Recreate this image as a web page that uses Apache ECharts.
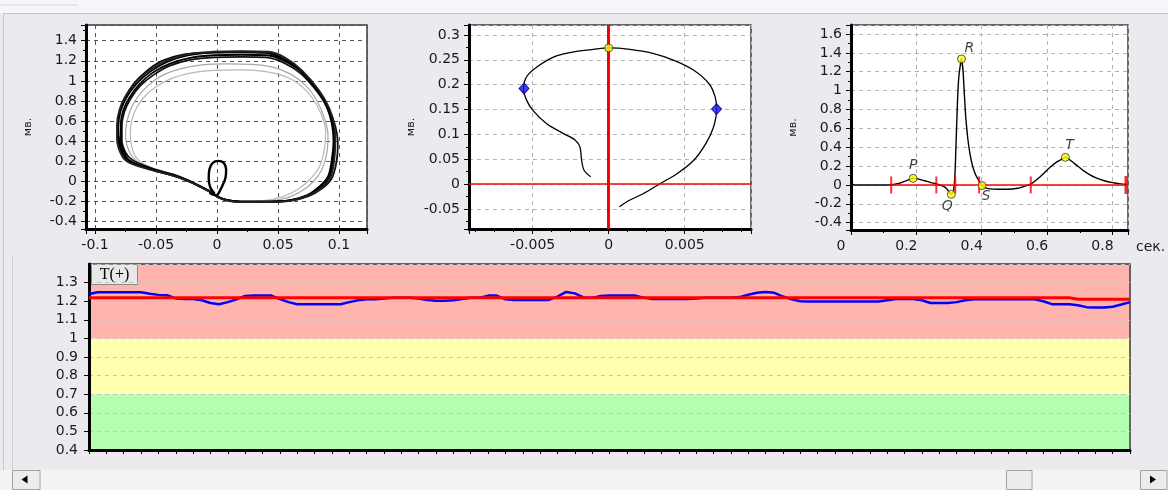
<!DOCTYPE html>
<html><head><meta charset="utf-8">
<script src="https://cdn.jsdelivr.net/npm/echarts@6/dist/echarts.min.js"></script>
<style>html,body{margin:0;padding:0;background:#ECEAEF;}#c{width:1168px;height:490px;}</style>
</head><body><div id="c"></div>
<script>
// ---------- DATA ----------
// Left chart: vector loops (x, y in mV)
const loopBlack1 = [[-0.004,-0.11],[-0.012,-0.06],[-0.022,0.0],[-0.035,0.06],[-0.050,0.11],[-0.063,0.16],[-0.072,0.21],[-0.077,0.28],[-0.080,0.40],[-0.081,0.54],[-0.079,0.70],[-0.074,0.84],[-0.066,0.97],[-0.055,1.09],[-0.041,1.19],[-0.024,1.255],[-0.003,1.283],[0.019,1.29],[0.041,1.285],[0.054,1.225],[0.068,1.11],[0.082,0.91],[0.090,0.74],[0.094,0.58],[0.0955,0.41],[0.094,0.21],[0.091,0.05],[0.084,-0.05],[0.074,-0.135],[0.060,-0.185],[0.041,-0.20],[0.019,-0.20],[0.008,-0.185],[0.0,-0.15],[-0.004,-0.11]];
const loopBlack2 = [[-0.003,-0.12],[-0.011,-0.07],[-0.021,-0.01],[-0.034,0.05],[-0.049,0.10],[-0.064,0.15],[-0.074,0.20],[-0.079,0.28],[-0.082,0.42],[-0.082,0.56],[-0.080,0.71],[-0.075,0.85],[-0.067,0.98],[-0.056,1.10],[-0.042,1.20],[-0.025,1.265],[-0.004,1.29],[0.020,1.295],[0.042,1.29],[0.056,1.23],[0.070,1.10],[0.084,0.90],[0.092,0.73],[0.096,0.57],[0.097,0.40],[0.096,0.20],[0.093,0.04],[0.086,-0.06],[0.075,-0.14],[0.061,-0.19],[0.042,-0.205],[0.020,-0.205],[0.008,-0.19],[0.0,-0.155],[-0.003,-0.12]];
const loopBlack3 = [[-0.005,-0.10],[-0.013,-0.05],[-0.023,0.01],[-0.036,0.07],[-0.051,0.12],[-0.062,0.17],[-0.070,0.22],[-0.075,0.29],[-0.078,0.41],[-0.078,0.55],[-0.076,0.69],[-0.071,0.82],[-0.063,0.95],[-0.052,1.06],[-0.039,1.15],[-0.022,1.21],[-0.002,1.235],[0.020,1.24],[0.040,1.235],[0.055,1.18],[0.069,1.07],[0.083,0.88],[0.092,0.71],[0.097,0.55],[0.099,0.39],[0.098,0.20],[0.094,0.03],[0.086,-0.07],[0.075,-0.145],[0.060,-0.19],[0.041,-0.2],[0.019,-0.2],[0.007,-0.18],[-0.001,-0.14],[-0.005,-0.10]];
const loopBlack4 = [[-0.004,-0.115],[-0.012,-0.065],[-0.022,-0.005],[-0.035,0.055],[-0.050,0.105],[-0.063,0.155],[-0.072,0.205],[-0.076,0.29],[-0.079,0.42],[-0.079,0.56],[-0.077,0.70],[-0.072,0.83],[-0.064,0.96],[-0.053,1.08],[-0.039,1.17],[-0.022,1.23],[-0.002,1.255],[0.020,1.26],[0.041,1.255],[0.055,1.20],[0.069,1.09],[0.083,0.89],[0.091,0.72],[0.095,0.56],[0.096,0.40],[0.095,0.21],[0.092,0.04],[0.085,-0.06],[0.074,-0.14],[0.060,-0.188],[0.041,-0.202],[0.019,-0.202],[0.008,-0.186],[0.0,-0.15],[-0.004,-0.115]];
const loopBlack5 = [[-0.004,-0.112],[-0.012,-0.062],[-0.022,-0.002],[-0.036,0.058],[-0.051,0.108],[-0.064,0.158],[-0.073,0.208],[-0.078,0.285],[-0.081,0.41],[-0.0815,0.55],[-0.0795,0.70],[-0.075,0.84],[-0.068,0.975],[-0.058,1.095],[-0.045,1.20],[-0.028,1.262],[-0.006,1.282],[0.019,1.285],[0.040,1.278],[0.054,1.215],[0.069,1.10],[0.083,0.905],[0.091,0.735],[0.095,0.575],[0.0965,0.405],[0.095,0.205],[0.092,0.045],[0.085,-0.055],[0.075,-0.138],[0.061,-0.188],[0.041,-0.201],[0.019,-0.201],[0.008,-0.186],[0.0,-0.152],[-0.004,-0.112]];
const loopGray1 = [[-0.004,-0.11],[-0.012,-0.06],[-0.022,0.0],[-0.035,0.06],[-0.050,0.115],[-0.062,0.17],[-0.069,0.24],[-0.073,0.33],[-0.075,0.45],[-0.074,0.58],[-0.071,0.71],[-0.065,0.84],[-0.056,0.96],[-0.044,1.06],[-0.030,1.12],[-0.012,1.16],[0.008,1.17],[0.028,1.165],[0.045,1.14],[0.060,1.07],[0.073,0.95],[0.082,0.80],[0.088,0.63],[0.091,0.46],[0.090,0.28],[0.086,0.12],[0.079,0.0],[0.070,-0.09],[0.058,-0.16],[0.042,-0.195],[0.022,-0.20],[0.009,-0.185],[0.0,-0.15],[-0.004,-0.11]];
const loopGray2 = [[-0.004,-0.11],[-0.012,-0.055],[-0.023,0.01],[-0.036,0.07],[-0.051,0.125],[-0.061,0.18],[-0.067,0.25],[-0.070,0.35],[-0.071,0.47],[-0.070,0.60],[-0.066,0.73],[-0.059,0.85],[-0.049,0.95],[-0.036,1.03],[-0.021,1.08],[-0.003,1.105],[0.016,1.11],[0.035,1.10],[0.052,1.06],[0.066,0.98],[0.077,0.85],[0.085,0.68],[0.089,0.50],[0.088,0.32],[0.084,0.15],[0.076,0.02],[0.066,-0.08],[0.054,-0.15],[0.038,-0.19],[0.020,-0.195],[0.008,-0.18],[0.0,-0.145],[-0.004,-0.11]];
const loopP = [[-0.002,-0.12],[-0.0055,-0.06],[-0.0068,0.03],[-0.0062,0.12],[-0.0035,0.185],[0.001,0.205],[0.0055,0.185],[0.0075,0.12],[0.007,0.04],[0.0045,-0.04],[0.002,-0.1],[0.0,-0.135],[-0.004,-0.128],[-0.006,-0.108]];

// Middle chart: loop detail
const midCurve = [[-0.00118,0.0148],[-0.00162,0.028],[-0.00178,0.048],[-0.00189,0.075],[-0.0022,0.0885],[-0.0030,0.102],[-0.0041,0.122],[-0.0050,0.149],[-0.0054,0.169],[-0.0056,0.192],[-0.0054,0.216],[-0.0047,0.236],[-0.0036,0.256],[-0.0023,0.266],[-0.0010,0.271],[0.0,0.274],[0.0014,0.271],[0.0029,0.263],[0.0043,0.249],[0.0056,0.229],[0.0066,0.202],[0.0070,0.176],[0.0071,0.151],[0.0069,0.115],[0.0064,0.082],[0.0056,0.048],[0.0045,0.021],[0.0034,0.0013],[0.0023,-0.0188],[0.0014,-0.032],[0.0007,-0.0456]];
const midTopPoint = [[0.0, 0.274]];
const midSidePoints = [[-0.00557, 0.1924], [0.0071, 0.1509]];

// Right chart: averaged ECG complex (s, mV)
const ecgCurve = [[0,0.02],[0.01,0.0],[0.05,0],[0.10,0],[0.125,0.002],[0.145,0.015],[0.165,0.04],[0.19,0.07],[0.205,0.065],[0.225,0.045],[0.245,0.025],[0.262,0.01],[0.28,-0.01],[0.293,-0.04],[0.300,-0.075],[0.307,-0.099],[0.313,-0.07],[0.318,0.1],[0.322,0.5],[0.326,0.9],[0.330,1.15],[0.338,1.34],[0.343,1.2],[0.347,0.95],[0.351,0.72],[0.357,0.5],[0.364,0.33],[0.372,0.2],[0.381,0.11],[0.391,0.045],[0.401,-0.007],[0.412,-0.03],[0.425,-0.042],[0.45,-0.046],[0.48,-0.046],[0.51,-0.035],[0.53,-0.015],[0.55,0.01],[0.57,0.06],[0.59,0.125],[0.61,0.19],[0.63,0.245],[0.645,0.275],[0.656,0.293],[0.67,0.265],[0.69,0.21],[0.71,0.155],[0.73,0.11],[0.75,0.075],[0.775,0.045],[0.80,0.025],[0.825,0.012],[0.845,0.006]];
const ecgBaseline = [[0.123,0],[0.8413,0]];
const ecgMarks = [0.123, 0.261, 0.319, 0.392, 0.550];
const ecgEndMark = [0.8413];
const waveNames = ['P','Q','R','S','T'];
const waveX = [0.19, 0.307, 0.338, 0.401, 0.656];
const waveY = [0.07, -0.099, 1.336, -0.007, 0.293];

// Bottom chart: T(+) trend
const trendBlue = [1.239,1.248,1.248,1.248,1.248,1.248,1.248,1.24,1.234,1.232,1.215,1.212,1.212,1.205,1.19,1.184,1.195,1.21,1.228,1.23,
1.23,1.23,1.212,1.195,1.184,1.184,1.184,1.184,1.184,1.184,
1.195,1.205,1.21,1.21,1.215,1.218,1.218,1.218,1.215,1.207,
1.203,1.203,1.205,1.212,1.218,1.218,1.23,1.23,1.21,1.207,
1.207,1.207,1.207,1.207,1.225,1.25,1.242,1.22,1.218,1.228,
1.23,1.23,1.23,1.23,1.218,1.212,1.212,1.212,1.212,1.212,
1.215,1.218,1.218,1.218,1.218,1.222,1.235,1.245,1.25,1.245,
1.225,1.21,1.2,1.198,1.198,1.198,1.198,1.198,1.198,1.198,
1.198,1.198,1.205,1.212,1.212,1.212,1.205,1.19,1.19,1.19,
1.195,1.205,1.21,1.21,1.21,1.21,1.21,1.21,1.21,1.21,
1.2,1.184,1.184,1.184,1.178,1.168,1.166,1.166,1.17,1.182,
1.195];
const trendRedBreaks = [[0,1.218],[113,1.218],[114,1.21],[120,1.21]];
const zoneBands = [[0.4,0.7,'#B4FFB0'],[0.7,1.0,'#FFFFB0'],[1.0,1.4,'#FFB4AE']];

// ---------- CHART ----------
const chart = echarts.init(document.getElementById('c'), null, {width:1168, height:490});
const FONT = 'DejaVu Sans';
const TXT = '#1a1a1a';

function axis(o) {
  return {
    type:'value', gridIndex:o.g, min:o.min, max:o.max,
    minInterval:o.step, maxInterval:o.step,
    splitNumber:Math.max(1, Math.round((o.max-o.min)/o.step)),
    axisLine:{show:true, onZero:false, lineStyle:{color:'#000', width:3}},
    axisTick:{show:true, length:o.tl||5, lineStyle:{color:'#000', width:1}},
    minorTick:{show:!!o.minor, splitNumber:o.minor||2, length:o.ml||3, lineStyle:{color:'#000', width:1}},
    minorSplitLine:{show:false},
    axisLabel:{show:o.label!==false, color:TXT, fontFamily:FONT, fontSize:14, margin:o.margin||9,
      showMinLabel:!!o.showMin, showMaxLabel:!!o.showMax, padding:o.pad||0},
    splitLine:{show:!!o.gridColor, lineStyle:{color:o.gridColor, type:[4,4], width:1}},
    name:o.name||'', nameLocation:'middle', nameGap:o.nameGap||52, nameRotate:90,
    nameTextStyle:{fontFamily:FONT, fontSize:11, color:TXT}
  };
}

const grids = [
  {left:86, top:25, width:281, height:204},
  {left:469, top:25, width:282, height:204},
  {left:851, top:25, width:277, height:205},
  {left:89, top:264, width:1041, height:186}
].map((g,i)=>Object.assign(g,{show:true, backgroundColor: i<3 ? '#ffffff' : 'transparent', borderColor:'#3a3a3a', borderWidth:1.5, containLabel:false, outerBoundsMode:'none'}));

const xAxes = [
  axis({g:0, min:-0.10738, max:0.12295, step:0.05, minor:2, gridColor:'#555'}),
  axis({g:1, min:-0.009189, max:0.009364, step:0.005, minor:4, gridColor:'#b4b4b4'}),
  axis({g:2, min:0, max:0.8475, step:0.2, minor:2, gridColor:'#b4b4b4', showMin:true, pad:[0,20,0,0]}),
  axis({g:3, min:0, max:120, step:2, minor:4, label:false, tl:4, ml:2})
];
const yAxes = [
  axis({g:0, min:-0.4726, max:1.556, step:0.2, minor:2, gridColor:'#555', name:'мв.'}),
  axis({g:1, min:-0.09023, max:0.32011, step:0.05, minor:2, gridColor:'#b4b4b4', name:'мв.'}),
  axis({g:2, min:-0.4774, max:1.6954, step:0.2, minor:2, gridColor:'#b4b4b4', name:'мв.'}),
  axis({g:3, min:0.4, max:1.4, step:0.1, gridColor:'#c4c4c4', showMin:true, margin:11})
];

function loopSeries(data, color, width) {
  return {type:'line', xAxisIndex:0, yAxisIndex:0, data:data, symbol:'none', smooth:0.35,
    lineStyle:{color:color, width:width}, silent:true, animation:false};
}

const series = [
  loopSeries(loopGray2, '#b8b8b8', 1.2),
  loopSeries(loopGray1, '#a8a8a8', 1.2),
  loopSeries(loopBlack3, '#111', 1.8),
  loopSeries(loopBlack4, '#000', 1.8),
  loopSeries(loopBlack5, '#000', 1.8),
  loopSeries(loopBlack1, '#000', 1.8),
  loopSeries(loopBlack2, '#222', 1.8),
  loopSeries(loopP, '#000', 2.4),
  // middle
  {type:'line', xAxisIndex:1, yAxisIndex:1, data:midCurve, symbol:'none', smooth:0.3,
    lineStyle:{color:'#000', width:1.3}, silent:true, animation:false,
    markLine:{silent:true, symbol:'none', animation:false, label:{show:false},
      data:[{xAxis:0, lineStyle:{color:'#ff0000', width:3, type:'solid'}},
            {yAxis:0, lineStyle:{color:'#ff0000', width:1.5, type:'solid'}}]}},
  {type:'scatter', xAxisIndex:1, yAxisIndex:1, data:midSidePoints, symbol:'diamond', symbolSize:[10,11],
    itemStyle:{color:'#1414ff', borderColor:'#000060', borderWidth:1}, silent:true, animation:false, z:5},
  {type:'scatter', xAxisIndex:1, yAxisIndex:1, data:midTopPoint, symbol:'circle', symbolSize:8,
    itemStyle:{color:'#ffff00', borderColor:'#333', borderWidth:1}, silent:true, animation:false, z:5},
  // right ECG
  {type:'line', xAxisIndex:2, yAxisIndex:2, data:ecgCurve, symbol:'none', smooth:0.15,
    lineStyle:{color:'#000', width:1.4}, silent:true, animation:false},
  {type:'line', xAxisIndex:2, yAxisIndex:2, data:ecgBaseline, symbol:'none',
    lineStyle:{color:'#ff0000', width:1.5}, silent:true, animation:false, z:3},
  {type:'scatter', xAxisIndex:2, yAxisIndex:2, data:ecgMarks.map(x=>[x,0]), symbol:'rect', symbolSize:[2,17],
    itemStyle:{color:'#ff0000'}, silent:true, animation:false, z:3},
  {type:'scatter', xAxisIndex:2, yAxisIndex:2, data:ecgEndMark.map(x=>[x,0]), symbol:'rect', symbolSize:[3,18],
    itemStyle:{color:'#e00000'}, silent:true, animation:false, z:3},
  {type:'scatter', xAxisIndex:2, yAxisIndex:2, symbol:'circle', symbolSize:8,
    itemStyle:{color:'#ffff00', borderColor:'#333', borderWidth:1}, silent:true, animation:false, z:6,
    data: waveNames.map((n,i)=>({value:[waveX[i], waveY[i]], name:n,
      label:{show:true, formatter:n, position:'inside',
        offset:[[0,-13],[-4,12],[8,-11],[4,11],[4,-12]][i],
        fontFamily:FONT, fontStyle:'italic', fontSize:14, color:'#111'}}))},
  // bottom trend
  {type:'line', xAxisIndex:3, yAxisIndex:3, data:trendBlue.map((v,i)=>[i,v]), symbol:'none', z:-5, zlevel:0,
    lineStyle:{opacity:0}, silent:true, animation:false,
    markArea:{silent:true, animation:false, z:-5,
      data: zoneBands.map(b=>[{yAxis:b[0], itemStyle:{color:b[2], opacity:1}}, {yAxis:b[1]}])}},
  {type:'line', xAxisIndex:3, yAxisIndex:3, data:trendBlue.map((v,i)=>[i,v]), symbol:'none',
    lineStyle:{color:'#0000ff', width:2.5}, silent:true, animation:false, z:3},
  {type:'line', xAxisIndex:3, yAxisIndex:3, data:trendRedBreaks, symbol:'none',
    lineStyle:{color:'#ff0000', width:3}, silent:true, animation:false, z:4}
];

const graphic = [
  {type:'rect', shape:{x:0, y:0, width:1168, height:13}, style:{fill:'#F6F6F8'}, z:-10, silent:true},
  {type:'line', shape:{x1:0, y1:5, x2:78, y2:5}, style:{stroke:'#d6d6da', lineWidth:1}, silent:true},
  {type:'line', shape:{x1:4, y1:13.5, x2:1168, y2:13.5}, style:{stroke:'#c6c5ca', lineWidth:1}, silent:true},
  {type:'line', shape:{x1:3.5, y1:13, x2:3.5, y2:470}, style:{stroke:'#c6c5ca', lineWidth:1}, silent:true},
  {type:'line', shape:{x1:12.5, y1:255, x2:12.5, y2:470}, style:{stroke:'#d0cfd4', lineWidth:1}, silent:true},
  // T(+) button
  {type:'group', left:91, top:264, z:100, children:[
    {type:'rect', shape:{x:0, y:0, width:46, height:20}, style:{fill:'#E8E8E8', stroke:'#8a8a8a', lineWidth:1}},
    {type:'text', x:23, y:10, style:{text:'T(+)', fill:'#000', font:'16px "Liberation Serif"', textAlign:'center', textVerticalAlign:'middle'}}
  ]},
  // sec. label
  {type:'text', left:1136, top:240, style:{text:'сек.', fill:TXT, font:'14px "DejaVu Sans"'}, silent:true},
  // scrollbar
  {type:'rect', shape:{x:0, y:470, width:1168, height:20}, style:{fill:'#F3F3F4'}, silent:true},
  {type:'rect', shape:{x:12.5, y:470.5, width:27.5, height:19}, style:{fill:'#ECECEC', stroke:'#a4a4a4', lineWidth:1}, silent:true},
  {type:'polygon', shape:{points:[[21.5,479.5],[27.5,475.5],[27.5,483.5]]}, style:{fill:'#000'}, silent:true},
  {type:'rect', shape:{x:1006.5, y:470.5, width:25.5, height:19}, style:{fill:'#ECECEC', stroke:'#a4a4a4', lineWidth:1}, silent:true},
  {type:'rect', shape:{x:1140.5, y:470.5, width:26.5, height:19}, style:{fill:'#ECECEC', stroke:'#a4a4a4', lineWidth:1}, silent:true},
  {type:'polygon', shape:{points:[[1150,475.5],[1156,479.5],[1150,483.5]]}, style:{fill:'#000'}, silent:true}
];

chart.setOption({
  backgroundColor:'#ECEAEF',
  animation:false,
  grid:grids, xAxis:xAxes, yAxis:yAxes, series:series, graphic:graphic
});
</script>
</body></html>
